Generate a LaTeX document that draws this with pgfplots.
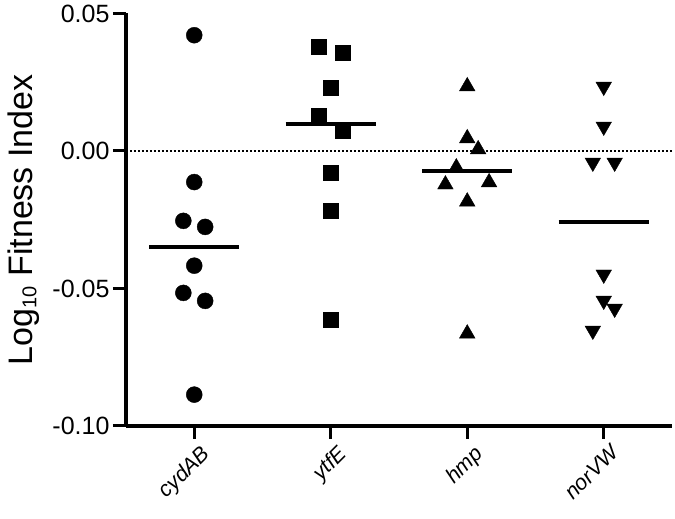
\documentclass[border=0pt]{standalone}
\usepackage{fontspec}
\setmainfont{Liberation Sans}
\usepackage{pgfplots}
\pgfplotsset{compat=1.18}
\begin{document}
\begin{tikzpicture}
\useasboundingbox (0,0) rectangle (675pt,519pt);
\begin{axis}[
  at={(126pt,93pt)}, anchor=south west,
  scale only axis, width=546pt, height=412.5pt,
  xmin=-0.5, xmax=3.5, ymin=-0.1, ymax=0.05,
  clip=false,
  axis x line*=bottom, axis y line*=left,
  axis line style={line width=3.5pt, black},
  tick align=outside,
  major tick length=13pt,
  tick style={line width=3pt, black},
  xtick={0,1,2,3}, xticklabels={cydAB,ytfE,hmp,norVW},
  ytick={-0.1,-0.05,0,0.05},
  minor tick num=0,
  /pgf/number format/assume math mode=true,
  yticklabel={\pgfmathprintnumber[fixed,fixed zerofill,precision=2]{\tick}},
  yticklabel style={font=\fontsize{25}{30}\selectfont, anchor=east},
  xticklabel style={font=\fontsize{21.5}{26}\selectfont\itshape, rotate=45, anchor=north east, xshift=4pt, yshift=-4pt},
  ylabel={Log{\fontsize{20}{20}\selectfont\raisebox{-0.22em}{10}} Fitness Index},
  ylabel style={font=\fontsize{34}{40}\selectfont, at={(axis description cs:-0.172,0.5)}, anchor=base},
]
\addplot[black, line width=1.3pt, dash pattern=on 2pt off 2pt] coordinates {(-0.5,0) (3.5,0)};
% cydAB
\addplot[only marks, mark=*, mark size=8pt, black] coordinates {
(0,0.0421) (0,-0.0113) (-0.08,-0.0254) (0.08,-0.0276) (0,-0.0417) (-0.08,-0.0516) (0.08,-0.0545) (0,-0.0886)};
% ytfE
\addplot[only marks, mark=square*, mark size=7.5pt, black] coordinates {
(0.915,0.0378) (1.085,0.0359) (1,0.0229) (0.915,0.0127) (1.085,0.0073) (1,-0.0080) (1,-0.0218) (1,-0.0614)};
% hmp
\addplot[only marks, mark=triangle*, mark size=9pt, black] coordinates {
(2,0.0235) (2,0.0046) (2.08,0.0006) (1.92,-0.0060) (1.84,-0.0122) (2.16,-0.0114) (2,-0.0184) (2,-0.0664)};
% norVW
\addplot[only marks, mark=triangle*, mark size=9pt, mark options={rotate=180}, black] coordinates {
(3,0.0234) (3,0.0089) (2.92,-0.0042) (3.08,-0.0042) (3,-0.0449) (3,-0.0544) (3.08,-0.0573) (2.92,-0.0653)};
% means
\addplot[black, line width=3.5pt] coordinates {(-0.33,-0.0349) (0.33,-0.0349)};
\addplot[black, line width=3.5pt] coordinates {(0.67,0.0098) (1.33,0.0098)};
\addplot[black, line width=3.5pt] coordinates {(1.67,-0.0073) (2.33,-0.0073)};
\addplot[black, line width=3.5pt] coordinates {(2.67,-0.0258) (3.33,-0.0258)};
\end{axis}
\end{tikzpicture}
\end{document}
